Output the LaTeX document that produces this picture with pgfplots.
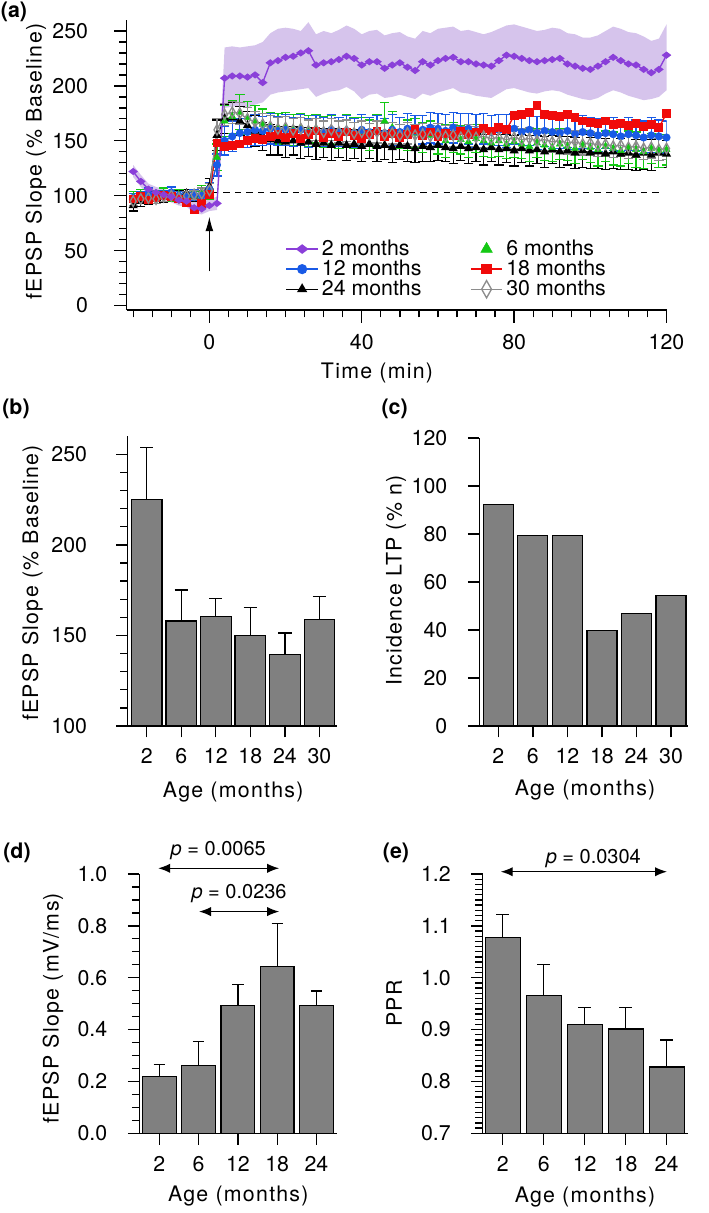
\documentclass[border=0pt]{standalone}
\usepackage{fontspec}
\setmainfont{TeX Gyre Heros}
\newfontfamily\labelfont[LetterSpace=6]{TeX Gyre Heros}
\usepackage{pgfplots}
\usepackage{pgfplotstable}
\pgfplotsset{compat=1.18}
\usetikzlibrary{arrows.meta}

\definecolor{cpurple}{RGB}{138,63,217}
\definecolor{cband}{RGB}{214,196,236}
\definecolor{cgreen}{RGB}{20,200,20}
\definecolor{cblue}{RGB}{25,90,230}
\definecolor{cred}{RGB}{240,10,10}
\definecolor{cgray}{RGB}{140,140,140}
\definecolor{cbar}{RGB}{128,128,128}

\pgfplotsset{
  base/.style={
    scale only axis,
    axis x line*=bottom, axis y line*=left,
    axis line style={line width=1pt,-},
    tick align=outside,
    major tick length=9.5pt, minor tick length=5.5pt,
    every tick/.style={black, line width=1pt},
    tick label style={font=\fontsize{16}{19}\selectfont},
    xticklabel style={yshift=-3pt},
    label style={font=\labelfont\fontsize{16}{19}\selectfont},
    /pgf/number format/assume math mode=true,
  },
  barstyle/.style={
    ybar, bar shift=0pt, fill=cbar, draw=black, line width=0.9pt,
  },
}

\pgfplotstableread{
t y
-20 122
-18 113
-16 106
-14 103
-12 101
-10 99
-8 96
-6 95
-4 89
-2 88
0 91
2 93
4 207
6 209
8 209
10 208
12 210
14 203
16 221
18 223
20 226
22 227
24 230
26 232
28 219
30 221
32 222
34 224
36 227
38 225
40 219
42 222
44 222
46 216
48 219
50 221
52 217
54 214
56 222
58 219
60 223
62 225
64 226
66 222
68 222
70 220
72 219
74 218
76 223
78 228
80 227
82 225
84 223
86 222
88 223
90 224
92 225
94 220
96 218
98 216
100 215
102 218
104 222
106 226
108 223
110 220
112 219
114 215
116 212
118 215
120 228
}\purpletab

% SEM band of the 2-month group: upper edge forward, lower edge backward
\pgfplotstableread{
t b
-20 128
-18 119
-16 111
-14 108
-12 106
-10 104
-8 101
-6 100
-4 95
-2 94
0 97
2 99
4 235
6 236
8 235
10 236
12 237
14 240
16 248
18 252
20 253
22 252
24 250
26 258
28 247
30 250
32 248
34 251
36 255
38 252
40 247
42 250
44 251
46 246
48 248
50 249
52 245
54 243
56 250
58 248
60 252
62 253
64 254
66 250
68 251
70 249
72 247
74 249
76 252
78 255
80 256
82 254
84 252
86 250
88 251
90 253
92 252
94 248
96 247
98 244
100 244
102 246
104 250
106 254
108 252
110 249
112 248
114 245
116 241
118 243
120 256
120 196
118 190
116 188
114 187
112 189
110 191
108 194
106 196
104 193
102 189
100 187
98 188
96 190
94 192
92 195
90 196
88 195
86 193
84 194
82 196
80 198
78 197
76 193
74 189
72 190
70 191
68 193
66 194
64 198
62 196
60 194
58 191
56 193
54 188
52 190
50 192
48 190
46 189
44 193
42 192
40 188
38 195
36 199
34 196
32 195
30 193
28 190
26 198
24 197
22 196
20 195
18 194
16 192
14 185
12 183
10 180
8 182
6 181
4 180
2 87
0 86
-2 83
-4 84
-6 90
-8 91
-10 94
-12 96
-14 98
-16 101
-18 108
-20 117
}\bandtab

\pgfplotstableread{
t y e
-20 99 5
-18 101 5
-16 97 4
-14 100 5
-12 102 5
-10 99 4
-8 101 5
-6 98 5
-4 100 4
-2 103 6
0 104 7
2 135 12
4 168 14
6 172 15
8 176 16
10 171 15
12 168 14
14 165 14
16 163 13
18 161 14
20 163 13
22 160 14
24 162 13
26 159 14
28 161 13
30 158 14
32 160 13
34 157 14
36 159 15
38 157 14
40 158 13
42 155 14
44 159 15
46 168 17
48 162 15
50 157 14
52 155 14
54 157 13
56 153 14
58 155 13
60 152 14
62 150 15
64 153 14
66 151 13
68 149 14
70 152 13
72 150 14
74 148 13
76 150 14
78 147 13
80 149 14
82 147 13
84 145 14
86 148 13
88 146 14
90 144 13
92 147 14
94 145 13
96 143 14
98 146 13
100 144 14
102 142 15
104 145 14
106 143 15
108 141 14
110 144 15
112 142 16
114 140 15
116 143 14
118 141 15
120 142 14
}\greentab

\pgfplotstableread{
t y e
-20 98 4
-18 100 4
-16 102 5
-14 99 4
-12 101 4
-10 103 5
-8 100 4
-6 99 4
-4 101 5
-2 100 5
0 106 6
2 128 10
4 150 13
6 154 14
8 157 13
10 158 14
12 160 14
14 159 13
16 161 14
18 159 13
20 160 14
22 158 13
24 160 14
26 157 13
28 159 14
30 158 13
32 160 14
34 158 13
36 159 14
38 157 13
40 160 14
42 158 13
44 159 14
46 157 13
48 160 14
50 158 13
52 161 14
54 159 14
56 160 13
58 162 14
60 161 14
62 159 15
64 162 14
66 160 15
68 161 14
70 159 15
72 161 14
74 158 15
76 160 14
78 159 15
80 161 14
82 158 15
84 160 14
86 157 15
88 159 14
90 158 15
92 157 14
94 159 15
96 156 14
98 158 15
100 157 14
102 155 15
104 157 14
106 156 15
108 154 14
110 156 15
112 155 14
114 153 15
116 155 16
118 154 15
120 153 15
}\bluetab

\pgfplotstableread{
t y
-20 97
-18 99
-16 96
-14 98
-12 100
-10 99
-8 97
-6 94
-4 87
-2 93
0 101
2 148
4 145
6 146
8 147
10 150
12 152
14 151
16 154
18 156
20 153
22 157
24 152
26 156
28 159
30 153
32 157
34 154
36 158
38 155
40 152
42 156
44 159
46 154
48 157
50 153
52 156
54 160
56 155
58 158
60 154
62 157
64 155
66 159
68 156
70 158
72 161
74 159
76 162
78 160
80 173
82 174
84 176
86 182
88 174
90 173
92 172
94 174
96 171
98 168
100 167
102 166
104 168
106 165
108 166
110 164
112 166
114 163
116 165
118 162
120 175
}\redtab

\pgfplotstableread{
t y e
-20 91 5
-18 95 5
-16 97 5
-14 100 4
-12 99 5
-10 101 4
-8 100 5
-6 102 4
-4 100 5
-2 103 6
0 108 8
2 155 14
4 170 13
6 171 14
8 168 13
10 164 13
12 159 14
14 154 13
16 151 14
18 150 13
20 149 14
22 150 13
24 148 14
26 149 13
28 147 14
30 148 13
32 146 14
34 148 13
36 146 14
38 147 13
40 145 14
42 147 13
44 145 14
46 146 13
48 144 14
50 146 13
52 145 14
54 143 13
56 145 14
58 144 13
60 146 14
62 144 13
64 143 14
66 145 13
68 143 14
70 144 13
72 142 14
74 144 13
76 142 14
78 143 13
80 141 14
82 143 13
84 141 14
86 142 13
88 140 14
90 142 13
92 140 14
94 141 13
96 139 14
98 141 15
100 139 14
102 140 15
104 138 14
106 140 15
108 138 14
110 139 15
112 137 14
114 139 15
116 137 14
118 139 13
120 138 12
}\blacktab

\pgfplotstableread{
t y e
-20 95 4
-18 97 4
-16 98 4
-14 97 4
-12 99 4
-10 100 4
-8 98 4
-6 100 4
-4 101 4
-2 102 5
0 105 6
2 160 10
4 174 10
6 176 10
8 175 10
10 170 10
12 167 10
14 165 10
16 163 10
18 161 10
20 162 10
22 160 10
24 161 10
26 159 10
28 160 10
30 158 10
32 160 10
34 158 10
36 159 10
38 157 10
40 158 10
42 156 10
44 158 10
46 156 10
48 157 10
50 155 10
52 157 10
54 155 10
56 156 10
58 154 10
60 156 10
62 154 10
64 155 10
66 153 10
68 155 10
70 153 10
72 154 10
74 152 10
76 153 10
78 151 10
80 153 10
82 151 10
84 152 10
86 150 10
88 151 10
90 149 10
92 150 10
94 148 10
96 149 10
98 147 10
100 148 10
102 146 10
104 147 10
106 145 10
108 146 10
110 144 10
112 145 10
114 143 10
116 144 10
118 142 10
120 143 10
}\graytab

\pgfplotstableread{
x y e
0 225 28.7
1 158 17.1
2 160.5 10
3 150 15.3
4 139.4 12
5 158.6 12.8
}\tabB

\pgfplotstableread{
x y
0 92.3
1 79.5
2 79.5
3 39.7
4 47
5 54.5
}\tabC

\pgfplotstableread{
x y e
0 0.218 0.048
1 0.261 0.092
2 0.494 0.081
3 0.643 0.165
4 0.492 0.057
}\tabD

\pgfplotstableread{
x y e
0 1.077 0.045
1 0.966 0.059
2 0.910 0.033
3 0.901 0.041
4 0.828 0.052
}\tabE

\begin{document}
\fontsize{16}{19}\selectfont
\begin{tikzpicture}
\path[use as bounding box] (0,0) rectangle (531.75pt,-909.75pt);

% ---------------- panel (a)
\begin{axis}[base,
  at={(95.03pt,-232.5pt)}, anchor=south west,
  width=404.85pt, height=217.5pt,
  xmin=-21.7, xmax=120, ymin=-4.1, ymax=260,
  xtick={0,40,80,120}, minor xtick={-20,-15,...,120},
  ytick={0,50,...,250}, minor y tick num=4,
  yticklabel style={xshift=-14pt},
  xlabel={Time (min)},
  ylabel={fEPSP Slope (\% Baseline)},
  xlabel style={at={(rel axis cs:0.4637,-0.217)}, anchor=center},
  ylabel style={at={(rel axis cs:-0.168,0.512)}, anchor=center},
  legend columns=2,
  legend cell align=left,
  legend style={at={(rel axis cs:0.294,0.248)}, anchor=north west, draw=none, fill=none,
    inner sep=0pt, row sep=-1pt, font=\fontsize{16}{19}\selectfont,
    nodes={inner sep=1pt},
    /tikz/every odd column/.append style={column sep=1.5pt},
    /tikz/every even column/.append style={column sep=35.5pt}},
  legend image code/.code={\draw[mark repeat=2,mark phase=2,#1] plot coordinates {(0pt,0pt) (11.85pt,0pt) (23.7pt,0pt)};},
]
\addplot[fill=cband, draw=none, forget plot] table[x=t, y=b] {\bandtab} -- cycle;

\addplot[black, dash pattern=on 4.7pt off 4pt, line width=1pt, forget plot] coordinates {(0.6,103) (119,103)};

\addplot[black, line width=1pt, mark=triangle*, mark size=3pt, mark options={solid}, forget plot,
  error bars/.cd, y dir=both, y explicit,
  error bar style={line width=0.9pt, black},
  error mark options={rotate=90, mark size=3.5pt, line width=0.9pt, black}]
  table[x=t, y=y, y error=e] {\blacktab};

\addplot[cgreen, only marks, mark=triangle*, mark size=3pt, forget plot,
  error bars/.cd, y dir=both, y explicit,
  error bar style={line width=0.9pt, cgreen},
  error mark options={rotate=90, mark size=3.5pt, line width=0.9pt, cgreen}]
  table[x=t, y=y, y error=e] {\greentab};

\addplot[cblue, line width=1pt, mark=*, mark size=2.5pt, mark options={solid}, forget plot,
  error bars/.cd, y dir=both, y explicit,
  error bar style={line width=0.9pt, cblue},
  error mark options={rotate=90, mark size=3.5pt, line width=0.9pt, cblue}]
  table[x=t, y=y, y error=e] {\bluetab};

\addplot[cred, line width=1pt, mark=square*, mark size=2.8pt, mark options={solid}, forget plot]
  table[x=t, y=y] {\redtab};

\addplot[cgray, line width=1pt, mark=diamond, mark size=4pt, mark options={solid, xscale=0.75, fill=white}, forget plot,
  error bars/.cd, y dir=both, y explicit,
  error bar style={line width=0.9pt, cgray},
  error mark options={rotate=90, mark size=3.5pt, line width=0.9pt, cgray}]
  table[x=t, y=y, y error=e] {\graytab};

\addplot[cpurple, line width=1pt, mark=diamond*, mark size=2.8pt, mark options={solid, rotate=90}, forget plot]
  table[x=t, y=y] {\purpletab};

\draw[line width=1pt, -{Latex[length=11pt, width=6pt]}] (axis cs:0,31) -- (axis cs:0,81);

\addlegendimage{cpurple, line width=1pt, mark=diamond*, mark size=4pt, mark options={solid, rotate=90}}
\addlegendentry{2 months}
\addlegendimage{only marks, cgreen, mark=triangle*, mark size=5pt}
\addlegendentry{6 months}
\addlegendimage{cblue, line width=1pt, mark=*, mark size=3.3pt}
\addlegendentry{12 months}
\addlegendimage{cred, line width=1pt, mark=square*, mark size=3.5pt}
\addlegendentry{18 months}
\addlegendimage{black, line width=1pt, mark=triangle*, mark size=3.5pt}
\addlegendentry{24 months}
\addlegendimage{cgray, line width=1pt, mark=diamond, mark size=6.5pt, mark options={solid, xscale=0.75, fill=white}}
\addlegendentry{30 months}
\end{axis}

% ---------------- panel (b)
\begin{axis}[base,
  at={(95.78pt,-544.5pt)}, anchor=south west,
  width=156.75pt, height=217.3pt,
  xmin=-0.55, xmax=5.5, ymin=100, ymax=260,
  major tick length=8.5pt,
  xtick={0,...,5}, xticklabels={2,6,12,18,24,30},
  ytick={100,150,200,250}, minor y tick num=4,
  yticklabel style={xshift=-16.5pt},
  xlabel={Age (months)},
  ylabel={fEPSP Slope (\% Baseline)},
  xlabel style={at={(rel axis cs:0.505,-0.228)}, anchor=center},
  ylabel style={at={(rel axis cs:-0.4555,0.4936)}, anchor=center},
]
\addplot[barstyle, bar width=23pt,
  error bars/.cd, y dir=plus, y explicit,
  error bar style={line width=1pt, black},
  error mark options={rotate=90, mark size=5pt, line width=1pt, black}]
  table[x=x, y=y, y error=e] {\tabB};
\end{axis}

% ---------------- panel (c)
\begin{axis}[base,
  at={(359.48pt,-544.5pt)}, anchor=south west,
  width=156.75pt, height=216pt,
  xmin=-0.55, xmax=5.5, ymin=0, ymax=120,
  major tick length=8.5pt,
  xtick={0,...,5}, xticklabels={2,6,12,18,24,30},
  ytick={0,20,...,120},
  yticklabel style={xshift=-10pt},
  xlabel={Age (months)},
  ylabel={Incidence LTP (\% n)},
  xlabel style={at={(rel axis cs:0.506,-0.222)}, anchor=center},
  ylabel style={at={(rel axis cs:-0.3986,0.505)}, anchor=center},
]
\addplot[barstyle, bar width=22.5pt] table[x=x, y=y] {\tabC};
\end{axis}

% ---------------- panel (d)
\begin{axis}[base,
  at={(104.48pt,-849.98pt)}, anchor=south west,
  width=148.5pt, height=194.5pt,
  xmin=-0.51, xmax=4.53, ymin=0, ymax=1,
  clip=false,
  major tick length=8.5pt,
  xtick={0,...,4}, xticklabels={2,6,12,18,24},
  ytick={0,0.2,0.4,0.6,0.8,1.0}, minor y tick num=3,
  yticklabel style={xshift=-10pt, /pgf/number format/fixed, /pgf/number format/fixed zerofill, /pgf/number format/precision=1},
  xlabel={Age (months)},
  ylabel={fEPSP Slope (mV/ms)},
  xlabel style={at={(rel axis cs:0.5,-0.242)}, anchor=center},
  ylabel style={at={(rel axis cs:-0.436,0.483)}, anchor=center},
]
\addplot[barstyle, bar width=25.3pt,
  error bars/.cd, y dir=plus, y explicit,
  error bar style={line width=1pt, black},
  error mark options={rotate=90, mark size=4.25pt, line width=1pt, black}]
  table[x=x, y=y, y error=e] {\tabD};
\draw[line width=1pt, {Latex[length=9pt,width=7pt]}-{Latex[length=9pt,width=7pt]}] (axis cs:-0.03,1.022) -- (axis cs:3.05,1.022);
\node[font=\fontsize{15}{18}\selectfont] at (axis cs:1.5,1.09) {\textit{p} = 0.0065};
\draw[line width=1pt, {Latex[length=9pt,width=7pt]}-{Latex[length=9pt,width=7pt]}] (axis cs:1.01,0.855) -- (axis cs:3.05,0.855);
\node[font=\fontsize{15}{18}\selectfont] at (axis cs:2.03,0.925) {\textit{p} = 0.0236};
\end{axis}

% ---------------- panel (e)
\begin{axis}[base,
  at={(362.03pt,-849.98pt)}, anchor=south west,
  width=154.2pt, height=194.5pt,
  xmin=-0.49, xmax=4.53, ymin=0.7, ymax=1.2,
  major tick length=8.5pt,
  xtick={0,...,4}, xticklabels={2,6,12,18,24},
  ytick={0.7,0.8,0.9,1.0,1.1,1.2}, minor y tick num=9,
  yticklabel style={xshift=-10pt, /pgf/number format/fixed, /pgf/number format/fixed zerofill, /pgf/number format/precision=1},
  xlabel={Age (months)},
  ylabel={PPR},
  xlabel style={at={(rel axis cs:0.4976,-0.2457)}, anchor=center},
  ylabel style={at={(rel axis cs:-0.431,0.5)}, anchor=center},
]
\addplot[barstyle, bar width=26.25pt,
  error bars/.cd, y dir=plus, y explicit,
  error bar style={line width=1pt, black},
  error mark options={rotate=90, mark size=4.75pt, line width=1pt, black}]
  table[x=x, y=y, y error=e] {\tabE};
\coordinate (eL) at (axis cs:-0.05,1.2044);
\coordinate (eR) at (axis cs:4.01,1.2044);
\coordinate (eT) at (axis cs:2.21,1.2303);
\end{axis}
\draw[line width=1pt, {Latex[length=9pt,width=7pt]}-{Latex[length=9pt,width=7pt]}] (eL) -- (eR);
\node[font=\fontsize{15}{18}\selectfont] at (eT) {\textit{p} = 0.0304};

% panel letters
\node[font=\bfseries\fontsize{16}{19}\selectfont] at (10.5pt,-9pt) {(a)};
\node[font=\bfseries\fontsize{16}{19}\selectfont] at (12pt,-306.75pt) {(b)};
\node[font=\bfseries\fontsize{16}{19}\selectfont] at (296pt,-306.75pt) {(c)};
\node[font=\bfseries\fontsize{16}{19}\selectfont] at (12.75pt,-639.75pt) {(d)};
\node[font=\bfseries\fontsize{16}{19}\selectfont] at (297pt,-639.75pt) {(e)};
\end{tikzpicture}
\end{document}
